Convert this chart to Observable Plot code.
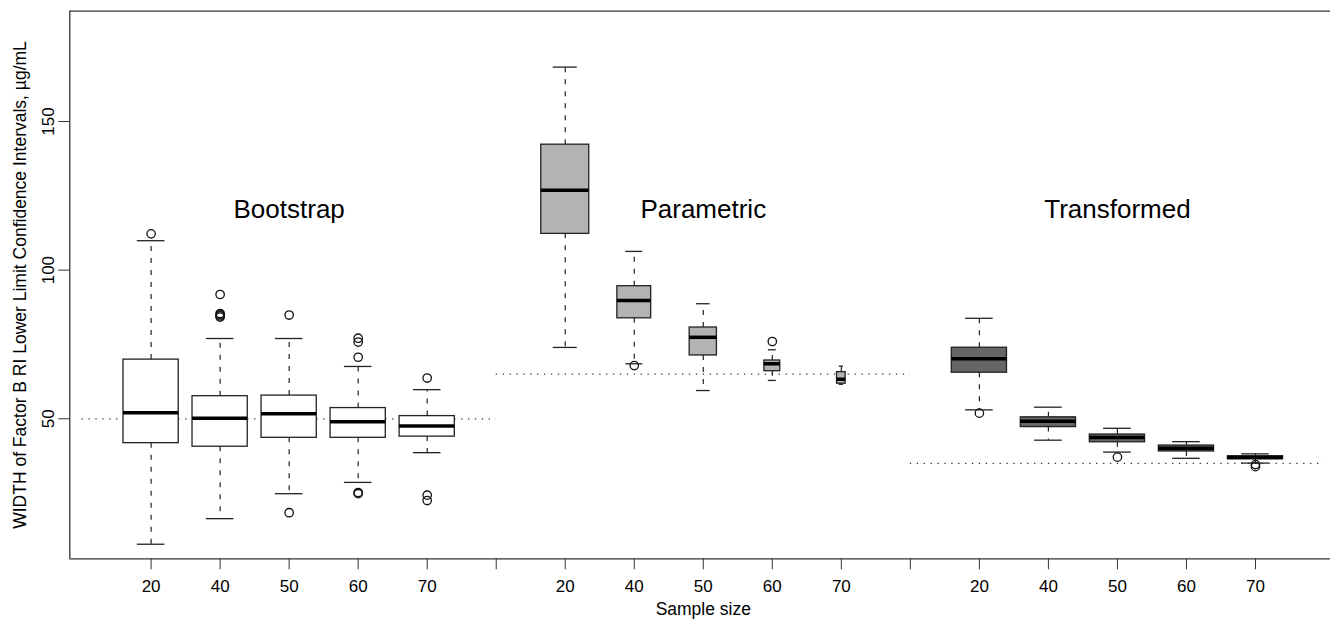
<!DOCTYPE html>
<html>
<head>
<meta charset="utf-8">
<script src="https://cdn.jsdelivr.net/npm/d3@7"></script>
<script src="https://cdn.jsdelivr.net/npm/@observablehq/plot@0.6"></script>
<style>
  html, body { margin: 0; padding: 0; background: #fff; overflow: hidden; }
  #chart svg { display: block; }
</style>
</head>
<body>
<div id="chart"></div>
<script>
// ---------------- DATA ----------------
const groups = ["Bootstrap", "Parametric", "Transformed"];
const sampleSizes = [20, 40, 50, 60, 70];
const yTicks = [50, 100, 150];
const xTitle = "Sample size";
const yTitle = "WIDTH of Factor B RI Lower Limit Confidence Intervals, µg/mL";

// box statistics per sample size: [lower whisker, Q1, median, Q3, upper whisker]
const bootstrapStats = [
  [7.8, 41.8, 52.0, 69.9, 109.9],
  [16.4, 40.6, 50.2, 57.6, 77.0],
  [24.8, 43.6, 51.7, 57.8, 77.0],
  [28.6, 43.6, 49.0, 53.6, 67.6],
  [38.6, 44.0, 47.6, 50.9, 59.8]
];
const parametricStats = [
  [74.0, 112.2, 126.9, 142.2, 168.3],
  [68.5, 83.8, 89.8, 94.6, 106.3],
  [59.5, 71.3, 77.4, 80.7, 88.7],
  [62.9, 66.0, 68.5, 69.6, 73.2],
  [61.6, 61.8, 63.3, 65.7, 67.7]
];
const transformedStats = [
  [53.0, 65.5, 70.2, 73.9, 83.8],
  [42.8, 47.2, 49.2, 50.5, 53.9],
  [38.8, 42.1, 43.7, 44.7, 46.8],
  [36.7, 39.0, 40.1, 41.0, 42.3],
  [35.1, 36.4, 37.0, 37.4, 38.2]
];

// outliers per sample size
const bootstrapOutliers = [
  [112.2],
  [91.8, 85.4, 85.0, 84.6, 84.2],
  [84.9, 18.4],
  [77.1, 75.8, 70.7, 25.2, 24.8],
  [63.7, 24.3, 22.5]
];
const parametricOutliers = [
  [],
  [67.9],
  [],
  [76.0],
  []
];
const transformedOutliers = [
  [51.9],
  [],
  [37.1],
  [],
  [34.6, 33.9]
];

// reference (dotted) lines, one per group
const referenceLines = [50, 65, 35];

// ---------------- STYLE ----------------
const boxFills = ["#ffffff", "#b3b3b3", "#666666"];
const boxWidths = [
  [0.8, 0.8, 0.8, 0.8, 0.8],
  [0.695, 0.49, 0.395, 0.23, 0.125],
  [0.8, 0.8, 0.8, 0.8, 0.8]
];
const xDomain = [-0.178, 18.087];
const yDomain = [2.9, 187.1];
const font = "'Liberation Sans', Arial, Helvetica, sans-serif";

// ---------------- BUILD ----------------
const statsByGroup = [bootstrapStats, parametricStats, transformedStats];
const outliersByGroup = [bootstrapOutliers, parametricOutliers, transformedOutliers];
const slot = (g, i) => g * (sampleSizes.length + 1) + i + 1;

const boxes = [];
const outliers = [];
statsByGroup.forEach((stats, g) => {
  stats.forEach(([lo, q1, med, q3, hi], i) => {
    boxes.push({pos: slot(g, i), lo, q1, med, q3, hi, w: boxWidths[g][i], fill: boxFills[g]});
    outliersByGroup[g][i].forEach(v => outliers.push({pos: slot(g, i), v}));
  });
});

const tickPositions = d3.range(1, groups.length * (sampleSizes.length + 1));
const tickLabel = new Map();
groups.forEach((_, g) => sampleSizes.forEach((s, i) => tickLabel.set(slot(g, i), String(s))));

const refRows = referenceLines.map((v, g) => ({v, g}));
const span = sampleSizes.length + 1;

const chart = Plot.plot({
  width: 1330,
  height: 619,
  marginLeft: 69.3,
  marginRight: 0,
  marginTop: 10.7,
  marginBottom: 60.7,
  style: {fontFamily: font, color: "#000", background: "#fff"},
  x: {type: "linear", domain: xDomain, axis: null},
  y: {domain: yDomain, axis: null},
  color: {type: "identity"},
  marks: [
    // reference lines
    Plot.ruleY(refRows, {y: "v", x1: d => d.g * span, x2: d => d.g * span + span,
      stroke: "#333", strokeWidth: 1.3, strokeDasharray: "1.3,5.6"}),
    // whiskers
    Plot.ruleX(boxes, {x: "pos", y1: "q3", y2: "hi", stroke: "#222", strokeWidth: 1.2, strokeDasharray: "5,7"}),
    Plot.ruleX(boxes, {x: "pos", y1: "q1", y2: "lo", stroke: "#222", strokeWidth: 1.2, strokeDasharray: "5,7"}),
    // caps
    Plot.ruleY(boxes, {y: "hi", x1: d => d.pos - d.w / 4, x2: d => d.pos + d.w / 4, stroke: "#222", strokeWidth: 1.3}),
    Plot.ruleY(boxes, {y: "lo", x1: d => d.pos - d.w / 4, x2: d => d.pos + d.w / 4, stroke: "#222", strokeWidth: 1.3}),
    // boxes
    Plot.rect(boxes, {x1: d => d.pos - d.w / 2, x2: d => d.pos + d.w / 2, y1: "q1", y2: "q3",
      fill: "fill", stroke: "#222", strokeWidth: 1.3}),
    // medians
    Plot.ruleY(boxes, {y: "med", x1: d => d.pos - d.w / 2, x2: d => d.pos + d.w / 2, stroke: "#000", strokeWidth: 3.5}),
    // outliers
    Plot.dot(outliers, {x: "pos", y: "v", r: 4.2, stroke: "#111", strokeWidth: 1.3, fill: "none"}),
    // group labels
    Plot.text(groups, {x: (d, g) => g * span + span / 2, y: () => 120.4, text: d => d,
      fontSize: 26, fill: "#000", lineAnchor: "middle"}),
    // frame (left, top, bottom)
    Plot.ruleX([xDomain[0]], {stroke: "#333", strokeWidth: 1.3}),
    Plot.ruleY(yDomain, {stroke: "#333", strokeWidth: 1.3}),
    // x axis
    Plot.axisX({ticks: tickPositions, tickFormat: p => tickLabel.get(p) ?? "", tickSize: 11,
      tickPadding: 10.5, fontSize: 17, label: null, stroke: "#333", fill: "#000"}),
    // y axis ticks
    Plot.axisY({ticks: yTicks, tickFormat: () => "", tickSize: 11, label: null, stroke: "#333"}),
    // y tick labels (rotated, R style)
    Plot.text(yTicks, {y: d => d, text: d => String(d), frameAnchor: "left", dx: -15.8,
      rotate: -90, textAnchor: "middle", lineAnchor: "bottom", fontSize: 17, fill: "#000"}),
    // axis titles
    Plot.text([xTitle], {x: () => (groups.length * span) / 2, frameAnchor: "bottom", dy: 56.3,
      lineAnchor: "bottom", text: d => d, fontSize: 17.5, fill: "#000"}),
    Plot.text([yTitle], {frameAnchor: "left", dx: -49.8, rotate: -90, lineAnchor: "middle",
      textAnchor: "middle", text: d => d, fontSize: 17.5, fill: "#000"})
  ]
});

document.getElementById("chart").appendChild(chart);
</script>
</body>
</html>
